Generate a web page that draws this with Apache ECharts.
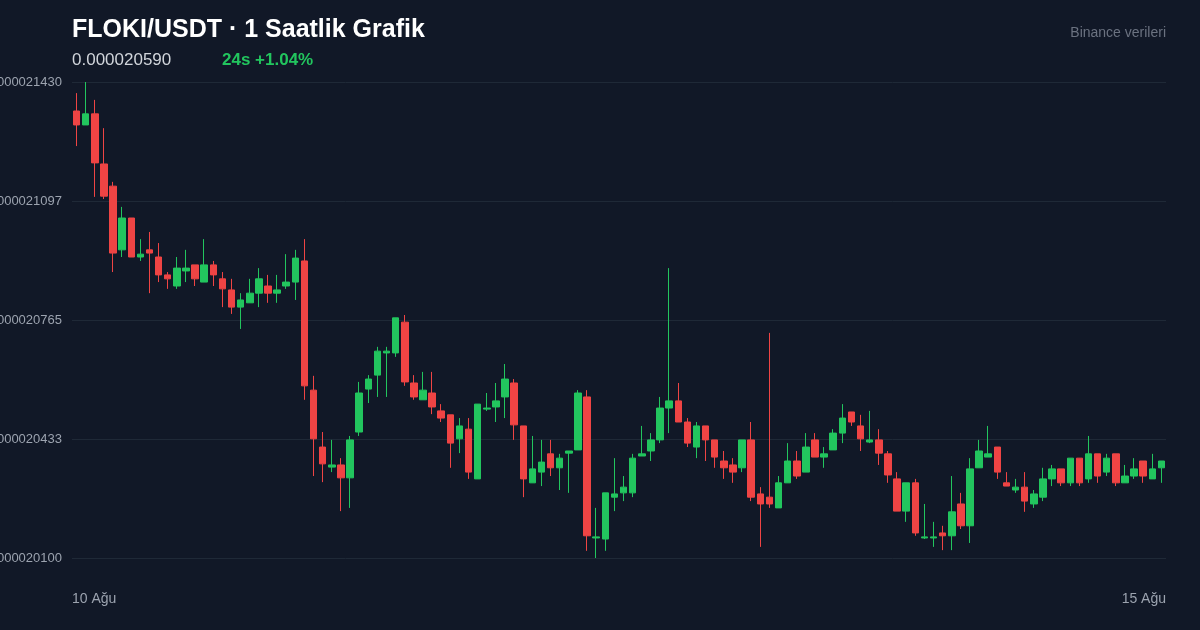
<!DOCTYPE html>
<html lang="tr">
<head>
<meta charset="UTF-8">
<title>FLOKI/USDT</title>
<script src="https://cdn.jsdelivr.net/npm/echarts@6/dist/echarts.min.js"></script>
<style>
  * { margin: 0; padding: 0; }
  body { background: #111827; }
  #chart { width: 1200px; height: 630px; }
</style>
</head>
<body>
<div id="chart"></div>
<script>
// prices in units of 1e-9 USDT, rows: [open, close, low, high]
var candles = [
  [21349,21310,21251,21399],[21310,21341,21310,21430],[21341,21204,21109,21380],[21201,21111,21103,21301],
  [21139,20952,20899,21151],[20961,21050,20941,21081],[21050,20941,20941,21050],[20941,20949,20930,20991],
  [20961,20952,20840,21011],[20941,20891,20871,20980],[20891,20880,20852,20899],[20860,20910,20852,20941],
  [20902,20910,20871,20961],[20919,20880,20860,20919],[20871,20919,20871,20991],[20919,20891,20860,20930],
  [20880,20852,20801,20899],[20849,20801,20782,20880],[20801,20821,20740,20840],[20813,20840,20813,20880],
  [20840,20880,20801,20910],[20860,20840,20813,20891],[20840,20849,20813,20891],[20860,20871,20852,20949],
  [20871,20938,20821,20961],[20930,20581,20542,20991],[20569,20433,20329,20609],[20410,20363,20312,20452],
  [20354,20360,20340,20430],[20360,20324,20231,20379],[20324,20430,20240,20441],[20452,20561,20441,20592],
  [20572,20600,20533,20611],[20611,20678,20550,20690],[20673,20678,20550,20690],[20673,20771,20662,20771],
  [20759,20592,20581,20779],[20589,20550,20542,20611],[20542,20569,20542,20620],[20561,20522,20502,20620],
  [20511,20491,20480,20530],[20500,20421,20352,20500],[20433,20469,20393,20491],[20460,20340,20321,20491],
  [20321,20530,20321,20530],[20516,20519,20511,20561],[20522,20539,20480,20589],[20550,20600,20491,20642],
  [20589,20472,20430,20600],[20469,20321,20270,20469],[20310,20349,20310,20441],[20340,20368,20301,20430],
  [20391,20352,20329,20430],[20352,20379,20290,20391],[20393,20399,20282,20399],[20402,20561,20402,20569],
  [20550,20162,20120,20569],[20156,20159,20100,20240],[20153,20282,20120,20282],[20270,20279,20231,20379],
  [20282,20298,20259,20329],[20282,20379,20270,20391],[20385,20391,20385,20469],[20399,20430,20371,20449],
  [20430,20519,20421,20550],[20519,20539,20449,20910],[20539,20480,20480,20589],[20480,20421,20410,20491],
  [20410,20469,20379,20480],[20469,20430,20371,20469],[20430,20382,20352,20430],[20371,20352,20321,20399],
  [20360,20340,20310,20379],[20352,20430,20340,20430],[20430,20270,20259,20480],[20279,20251,20131,20298],
  [20270,20251,20240,20729],[20240,20310,20240,20329],[20310,20371,20310,20421],[20371,20329,20321,20399],
  [20340,20410,20340,20449],[20430,20382,20382,20449],[20382,20391,20352,20410],[20402,20449,20402,20460],
  [20449,20491,20421,20530],[20508,20480,20469,20508],[20469,20433,20399,20500],[20424,20430,20421,20511],
  [20430,20393,20360,20460],[20391,20332,20310,20399],[20321,20231,20231,20340],[20231,20310,20201,20310],
  [20310,20170,20162,20321],[20156,20159,20153,20251],[20156,20159,20131,20201],[20170,20162,20122,20190],
  [20162,20229,20122,20329],[20251,20190,20181,20282],[20190,20349,20142,20379],[20352,20399,20352,20430],
  [20382,20391,20382,20469],[20410,20340,20321,20410],[20310,20301,20301,20340],[20290,20298,20282,20321],
  [20298,20259,20229,20340],[20251,20279,20240,20290],[20270,20321,20259,20352],[20321,20349,20301,20360],
  [20349,20310,20301,20349],[20310,20379,20301,20379],[20379,20310,20301,20379],[20321,20391,20310,20441],
  [20391,20329,20310,20391],[20340,20379,20329,20391],[20391,20310,20301,20391],[20310,20329,20310,20360],
  [20329,20349,20321,20379],[20371,20329,20310,20371],[20321,20349,20321,20391],[20352,20371,20310,20371]
];
var hours = candles.map(function (c, i) { return i; });
var tickLabels = ['0.000020100', '0.000020433', '0.000020765', '0.000021097', '0.000021430'];
var yMin = 20100, yMax = 21430;
var dateLabels = ['10 Ağu', '15 Ağu'];

var FONT = '"Liberation Sans", Arial, sans-serif';
var chart = echarts.init(document.getElementById('chart'));
var option = {
  backgroundColor: '#111827',
  animation: false,
  grid: { left: 72, right: 34, top: 82, bottom: 72, containLabel: false, outerBoundsMode: 'none' },
  xAxis: {
    type: 'category',
    data: hours,
    axisLine: { show: false },
    axisTick: { show: false },
    axisLabel: { show: false },
    splitLine: { show: false }
  },
  yAxis: {
    type: 'value',
    min: yMin,
    max: yMax,
    interval: (yMax - yMin) / 4,
    axisLine: { show: false },
    axisTick: { show: false },
    splitLine: { lineStyle: { color: '#1f2937', width: 1 } },
    axisLabel: {
      color: '#9ca3af',
      fontSize: 13,
      fontFamily: FONT,
      margin: 10,
      formatter: function (v) {
        var i = Math.round((v - yMin) / ((yMax - yMin) / 4));
        return tickLabels[i];
      }
    }
  },
  series: [{
    type: 'candlestick',
    data: candles,
    barWidth: 7,
    itemStyle: {
      color: '#22c55e', color0: '#ef4444',
      borderColor: '#22c55e', borderColor0: '#ef4444',
      borderWidth: 1
    }
  }],
  graphic: [
    { type: 'text', left: 72, top: 18, style: { text: 'FLOKI/USDT · 1 Saatlik Grafik', fill: '#ffffff', font: 'bold 25px ' + FONT } },
    { type: 'text', left: 72, top: 52, style: { text: '0.000020590', fill: '#d1d5db', font: '17px ' + FONT } },
    { type: 'text', left: 222, top: 52, style: { text: '24s +1.04%', fill: '#22c55e', font: 'bold 17px ' + FONT } },
    { type: 'text', right: 34, top: 26, style: { text: 'Binance verileri', fill: '#6b7280', font: '14px ' + FONT } },
    { type: 'text', left: 72, top: 592, style: { text: dateLabels[0], fill: '#9ca3af', font: '14px ' + FONT } },
    { type: 'text', right: 34, top: 592, style: { text: dateLabels[1], fill: '#9ca3af', font: '14px ' + FONT } }
  ]
};
chart.setOption(option);
</script>
</body>
</html>
